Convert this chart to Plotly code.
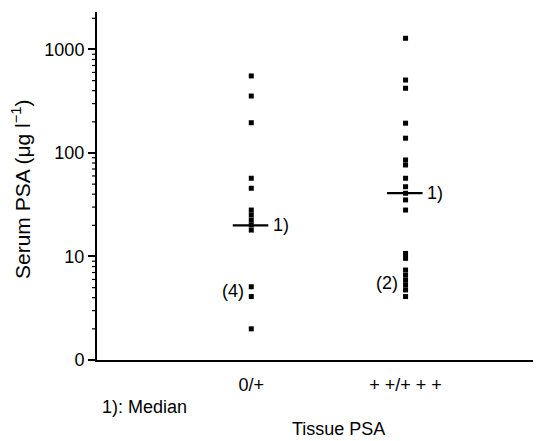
import math
import plotly.graph_objects as go

categories = ["0/+", "+ +/+ + +"]
group1_values = [555, 355, 196, 57, 45.6, 28.1, 25.2, 22.5, 20.2, 18.0, 5.1, 4.1, 2.0]
group2_values = [1283, 507, 422, 194, 139, 85.6, 76.6, 57, 47.2, 40.8, 35.2, 28.1,
                 10.7, 9.6, 7.4, 6.6, 5.9, 5.3, 4.75, 4.1]
medians = [20, 41]
group_counts_label = ["(4)", "(2)"]
group_counts_y = [4.6, 5.5]
ytick_vals = [1, 10, 100, 1000]
ytick_text = ["0", "10", "100", "1000"]
minor_vals = [m * 10 ** d for d in range(0, 4) for m in range(2, 10) if m * 10 ** d < 2300]

FONT = "Liberation Sans, Arial, Helvetica, sans-serif"
FS = 18

# page offset compensation (body margin 8px)
OFF = 8
W, H = 558 - OFF, 441 - OFF
L, R, T, B = 97 - OFF, 25, 12 - OFF, 81
PW, PH = W - L - R, H - T - B


def px(X):
    return (X - OFF - L) / PW


def py(Y):
    return ((H - B) - (Y - OFF)) / PH


fig = go.Figure()
marker = dict(symbol="square", size=5, color="black", line=dict(width=0))
for i, vals in enumerate([group1_values, group2_values]):
    fig.add_trace(go.Scatter(x=[i + 1] * len(vals), y=vals, mode="markers",
                             marker=marker, showlegend=False, hoverinfo="y"))
    fig.add_trace(go.Scatter(x=[i + 1 - 0.12, i + 1 + 0.11], y=[medians[i]] * 2,
                             mode="lines", line=dict(color="black", width=2.2),
                             showlegend=False, hoverinfo="skip"))
    fig.add_annotation(x=i + 1 + 0.125, y=math.log10(medians[i]), xref="x", yref="y",
                       text="1)", showarrow=False, xanchor="left", yanchor="middle",
                       font=dict(size=FS, color="black", family=FONT))
    fig.add_annotation(x=i + 1 - 0.035, y=math.log10(group_counts_y[i]), xref="x", yref="y",
                       text=group_counts_label[i], showarrow=False, xanchor="right",
                       yanchor="middle", font=dict(size=FS, color="black", family=FONT))

# minor ticks on the log y axis (shapes take data values on log axes)
for v in minor_vals:
    fig.add_shape(type="line", xref="paper", xsizemode="pixel", xanchor=0, x0=-5, x1=0,
                  yref="y", y0=v, y1=v, line=dict(color="black", width=1.2))

fig.add_annotation(x=px(100), y=py(407), xref="paper", yref="paper", text="1): Median",
                   showarrow=False, xanchor="left", yanchor="middle",
                   font=dict(size=FS, color="black", family=FONT))
fig.add_annotation(x=px(338), y=py(429), xref="paper", yref="paper", text="Tissue PSA",
                   showarrow=False, xanchor="center", yanchor="middle",
                   font=dict(size=FS, color="black", family=FONT))
fig.add_annotation(x=px(21), y=py(190), xref="paper", yref="paper",
                   text="Serum PSA (μg l<sup>−1</sup>)", textangle=-90, showarrow=False,
                   xanchor="center", yanchor="middle",
                   font=dict(size=21, color="black", family=FONT))

fig.update_layout(
    width=W, height=H,
    margin=dict(l=L, r=R, t=T, b=B, autoexpand=False),
    paper_bgcolor="white", plot_bgcolor="white",
    font=dict(family=FONT, size=FS, color="black"),
    xaxis=dict(range=[0, 2.826], tickvals=[1, 2], ticktext=categories, showgrid=False,
               zeroline=False, showline=True, linecolor="black", linewidth=2, ticks="",
               ticklabelstandoff=7, tickfont=dict(size=FS)),
    yaxis=dict(type="log", range=[0, 3.362], tickvals=ytick_vals, ticktext=ytick_text,
               showgrid=False, zeroline=False, showline=True, linecolor="black", linewidth=2,
               ticks="outside", ticklen=7, tickwidth=2, tickcolor="black",
               tickfont=dict(size=FS)),
)

fig.write_html("out.html")
